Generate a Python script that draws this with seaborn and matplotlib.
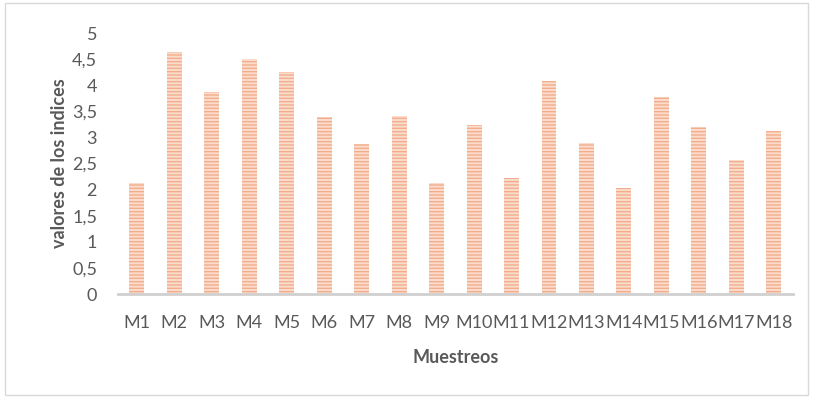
import matplotlib
matplotlib.use("Agg")
import matplotlib.pyplot as plt
import seaborn as sns
import pandas as pd
from matplotlib.patches import Rectangle
from matplotlib.ticker import FuncFormatter, MultipleLocator

muestreos = ["M1", "M2", "M3", "M4", "M5", "M6", "M7", "M8", "M9",
             "M10", "M11", "M12", "M13", "M14", "M15", "M16", "M17", "M18"]
valores = [2.13, 4.63, 3.88, 4.50, 4.26, 3.39, 2.87, 3.41, 2.12,
           3.23, 2.23, 4.08, 2.89, 2.03, 3.77, 3.21, 2.57, 3.12]

df = pd.DataFrame({"Muestreos": muestreos, "valor": valores})

sns.set_theme(style="white")
plt.rcParams["font.family"] = ["Lato", "DejaVu Sans"]
plt.rcParams["hatch.linewidth"] = 1.0

fig = plt.figure(figsize=(8.13, 3.98), dpi=100)
ax = fig.add_axes([0.145, 0.261, 0.83, 0.656])

sns.barplot(data=df, x="Muestreos", y="valor", ax=ax, width=0.4,
            color="#fbdccc", saturation=1, linewidth=0, edgecolor="#f2ad8c")
for bar in ax.patches:
    bar.set_hatch("-----")
    bar.set_edgecolor("#f2ad8c")
    bar.set_linewidth(0)

ax.set_ylim(0, 5)
ax.set_xlim(-0.5, len(muestreos) - 0.5)
ax.yaxis.set_major_locator(MultipleLocator(0.5))
ax.yaxis.set_major_formatter(FuncFormatter(lambda v, p: f"{v:g}".replace(".", ",")))

for s in ["top", "right", "left"]:
    ax.spines[s].set_visible(False)
ax.spines["bottom"].set_color("#d0d0d0")
ax.spines["bottom"].set_linewidth(2)

ax.tick_params(axis="both", length=0, labelsize=13, labelcolor="#595959")
ax.tick_params(axis="x", pad=15)
ax.tick_params(axis="y", pad=15)

ax.set_xlabel("Muestreos", fontsize=13, fontweight="bold", color="#595959", labelpad=13)
ax.set_ylabel("valores de los indices", fontsize=13, fontweight="bold", color="#595959", labelpad=3)

fig.patches.append(Rectangle((0.006, 0.008), 0.988, 0.984, transform=fig.transFigure,
                             fill=False, edgecolor="#d9d9d9", linewidth=1))

fig.savefig("out.png", dpi=100)
